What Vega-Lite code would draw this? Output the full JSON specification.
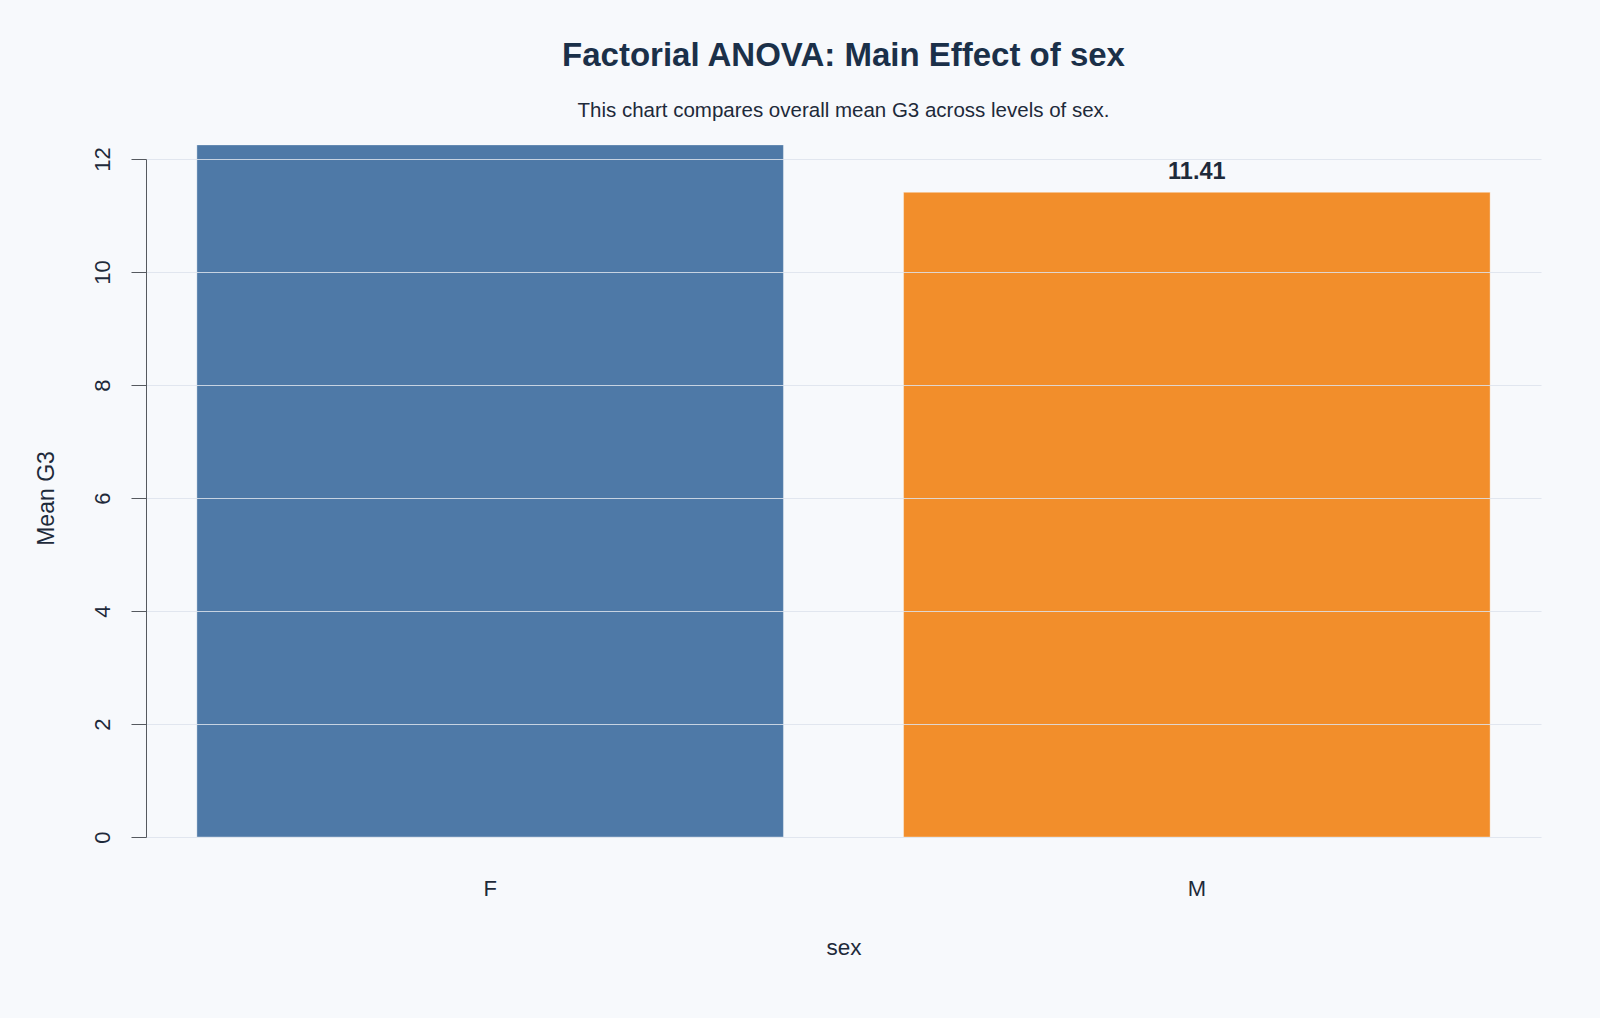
{
  "$schema": "https://vega.github.io/schema/vega-lite/v6.json",
  "autosize": {"type": "none"},
  "width": 1395,
  "height": 678,
  "padding": {"left": 146, "top": 159, "right": 59, "bottom": 181},
  "background": "#f7f9fc",
  "title": {
    "text": "Factorial ANOVA: Main Effect of sex",
    "subtitle": "This chart compares overall mean G3 across levels of sex.",
    "anchor": "middle",
    "frame": "group",
    "font": "Liberation Sans",
    "fontSize": 33,
    "fontWeight": "bold",
    "color": "#1b3049",
    "subtitleFont": "Liberation Sans",
    "subtitleFontSize": 20.5,
    "subtitleColor": "#1e2a3a",
    "subtitlePadding": 28,
    "offset": 23
  },
  "data": {
    "values": [
      {"sex": "F", "mean_g3": 12.25, "label": "12.25"},
      {"sex": "M", "mean_g3": 11.41, "label": "11.41"}
    ]
  },
  "config": {
    "view": {"stroke": null},
    "font": "Liberation Sans"
  },
  "encoding": {
    "x": {
      "field": "sex",
      "type": "nominal",
      "sort": ["F", "M"],
      "scale": {"paddingInner": 0.17, "paddingOuter": 0.072},
      "axis": {
        "title": "sex",
        "labelAngle": 0,
        "labelFontSize": 22,
        "labelColor": "#1e2a3a",
        "labelPadding": 41,
        "ticks": false,
        "domain": false,
        "grid": false,
        "titleFontSize": 22.5,
        "titleFontWeight": "normal",
        "titleColor": "#1e2a3a",
        "titlePadding": 37
      }
    },
    "y": {
      "field": "mean_g3",
      "type": "quantitative",
      "scale": {"domain": [0, 12], "nice": false},
      "axis": {
        "title": "Mean G3",
        "values": [0, 2, 4, 6, 8, 10, 12],
        "labelAngle": -90,
        "labelAlign": "center",
        "labelBaseline": "bottom",
        "labelFontSize": 22,
        "labelColor": "#1e2a3a",
        "labelPadding": 17,
        "tickSize": 15,
        "tickColor": "#55595f",
        "domainColor": "#55595f",
        "grid": true,
        "gridColor": "#dde3ec",
        "gridOpacity": 0.85,
        "zindex": 1,
        "titleFontSize": 23,
        "titleFontWeight": "normal",
        "titleColor": "#1e2a3a",
        "titlePadding": 33
      }
    }
  },
  "layer": [
    {
      "mark": {"type": "bar", "stroke": "#ffffff", "strokeWidth": 0.6, "strokeOpacity": 0.6},
      "encoding": {
        "color": {
          "field": "sex",
          "type": "nominal",
          "scale": {"domain": ["F", "M"], "range": ["#4e79a7", "#f28e2b"]},
          "legend": null
        }
      }
    },
    {
      "mark": {
        "type": "text",
        "clip": true,
        "baseline": "bottom",
        "dy": -8,
        "fontSize": 23.5,
        "fontWeight": "bold",
        "color": "#1e2a3a"
      },
      "encoding": {
        "text": {"field": "label"}
      }
    }
  ]
}
